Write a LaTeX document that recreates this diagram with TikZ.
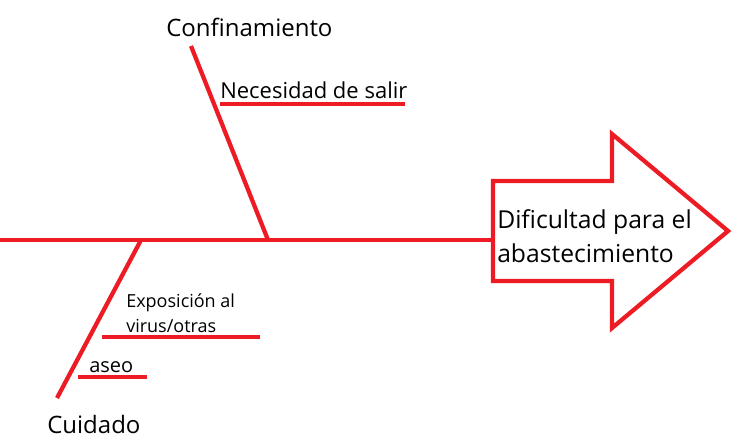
\documentclass[tikz,border=0pt]{standalone}
\usepackage{fontspec}
\setmainfont{Open Sans}
\usetikzlibrary{positioning}
\definecolor{boneRed}{RGB}{237, 28, 36}

\begin{document}
\begin{tikzpicture}[x=0.75pt, y=-0.75pt, inner sep=0pt,
  bone/.style={line width=3.2pt, boneRed},
  sub/.style={line width=2.5pt, boneRed},
  lbl/.style={anchor=base west, font=\fontsize{18}{22}\selectfont}]
                \useasboundingbox (0,0) rectangle (741,446);
                
                % spine and head
                \coordinate (tail) at (0,240);
                \coordinate (headIn) at (493,240);
                \draw[bone, line join=miter] (493,181) -- (612,181) -- (612,134) -- (728,231) -- (612,328) -- (612,281) -- (493,281) -- cycle;
                \node[anchor=west, align=left, font=\fontsize{18.5}{25.5}\selectfont] (effect) at (497,236) {Dificultad para el\\abastecimiento};
                \draw[bone] (tail) -- (headIn);
                
                % upper cause
                \node[lbl] (conf) at (166,36) {Confinamiento};
                \coordinate (confTop) at (191,46);
                \coordinate (confFoot) at (268,240);
                \draw[bone] (confTop) -- (confFoot);
                \node[lbl, font=\fontsize{16.5}{20}\selectfont] (salir) at (220,98) {Necesidad de salir};
                \coordinate (salirA) at (220,104);
                \coordinate (salirB) at (405,104);
                \draw[sub] (salirA) -- (salirB);
                
                % lower cause
                \node[lbl] (cuid) at (47,433) {Cuidado};
                \coordinate (cuidFoot) at (141,240);
                \coordinate (cuidEnd) at (57,398);
                \draw[bone] (cuidFoot) -- (cuidEnd);
                \node[anchor=west, align=left, font=\fontsize{13.5}{19}\selectfont] (expo) at (126,313) {Exposición al\\virus/otras};
                \coordinate (expoA) at (102,337);
                \coordinate (expoB) at (260,337);
                \draw[sub] (expoA) -- (expoB);
                \node[lbl, font=\fontsize{15}{18}\selectfont] (aseo) at (89,372) {aseo};
                \coordinate (aseoA) at (78,377);
                \coordinate (aseoB) at (147,377);
                \draw[sub] (aseoA) -- (aseoB);
            \end{tikzpicture}
\end{document}
